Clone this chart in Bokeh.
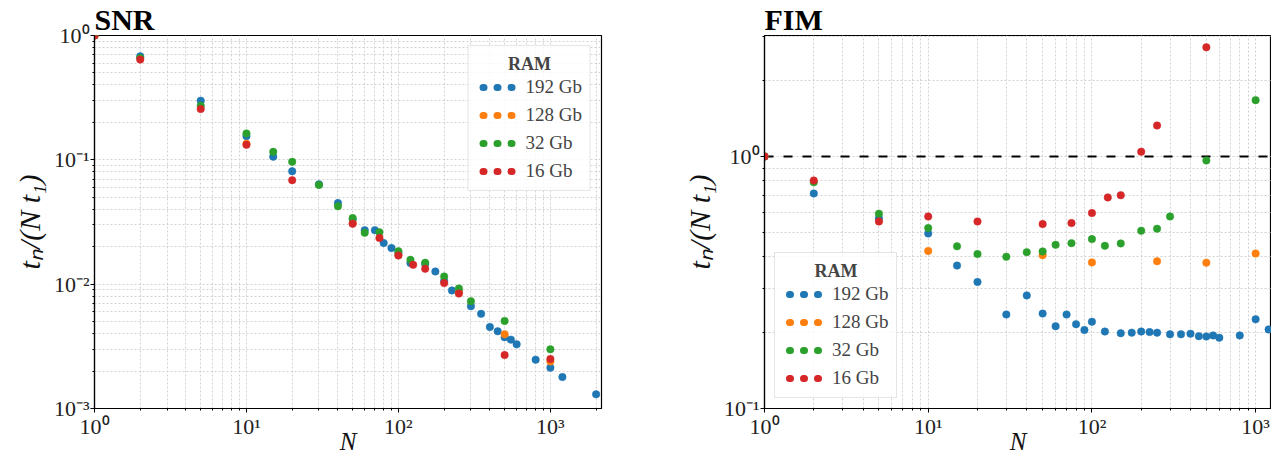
from bokeh.plotting import figure
from bokeh.layouts import row
from bokeh.models import (FixedTicker, CustomJSTickFormatter, Legend, LegendItem, Span)
from bokeh.embed import file_html
from bokeh.resources import INLINE

# ---------------- data ----------------
series_names = ["192 Gb", "128 Gb", "32 Gb", "16 Gb"]
series_colors = ["#1f77b4", "#ff7f0e", "#2ca02c", "#d62728"]

# SNR panel
snr_192_n = [1, 2, 5, 10, 15, 20, 30, 40, 50, 60, 70, 80, 90, 100, 120, 150, 175, 200,
             225, 250, 300, 350, 400, 450, 500, 550, 600, 800, 1000, 1200, 2000]
snr_192_v = [1.0, 0.68, 0.299, 0.155, 0.106, 0.081, 0.0635, 0.045, 0.033, 0.0272, 0.0272,
             0.0214, 0.0195, 0.0178, 0.0148, 0.0145, 0.01265, 0.0106, 0.0089, 0.0087,
             0.00665, 0.00577, 0.00453, 0.00418, 0.00374, 0.00358, 0.00328, 0.00247,
             0.00213, 0.00179, 0.0013]
snr_128_n = [1, 10, 50, 100, 250, 500, 1000]
snr_128_v = [1.0, 0.135, 0.031, 0.0172, 0.0086, 0.00395, 0.00239]
snr_32_n = [1, 2, 5, 10, 15, 20, 30, 40, 50, 60, 75, 100, 120, 150, 200, 250, 300, 500, 1000]
snr_32_v = [1.0, 0.66, 0.272, 0.163, 0.116, 0.0963, 0.0628, 0.0423, 0.034, 0.0259, 0.0262,
            0.0184, 0.0157, 0.0149, 0.01153, 0.00923, 0.0073, 0.00506, 0.00299]
snr_16_n = [1, 2, 5, 10, 20, 50, 75, 100, 125, 150, 200, 250, 500, 1000]
snr_16_v = [1.0, 0.64, 0.256, 0.132, 0.0686, 0.0306, 0.0235, 0.017, 0.0143, 0.0133,
            0.0102, 0.0084, 0.00269, 0.0025]

# FIM panel
fim_192_n = [1, 2, 5, 10, 15, 20, 30, 40, 50, 60, 70, 80, 90, 100, 120, 150, 175, 200,
             225, 250, 300, 350, 400, 450, 500, 550, 600, 800, 1000, 1200]
fim_192_v = [1.0, 0.713, 0.569, 0.495, 0.369, 0.318, 0.236, 0.281, 0.238, 0.212, 0.236,
             0.216, 0.205, 0.221, 0.202, 0.199, 0.2, 0.202, 0.201, 0.2, 0.197, 0.197,
             0.198, 0.1936, 0.193, 0.195, 0.191, 0.195, 0.226, 0.206]
fim_128_n = [1, 10, 50, 100, 250, 500, 1000]
fim_128_v = [1.0, 0.422, 0.406, 0.38, 0.384, 0.379, 0.412]
fim_32_n = [1, 2, 5, 10, 15, 20, 30, 40, 50, 60, 75, 100, 120, 150, 200, 250, 300, 500, 1000]
fim_32_v = [1.0, 0.79, 0.593, 0.52, 0.44, 0.41, 0.40, 0.417, 0.42, 0.446, 0.453, 0.47,
            0.442, 0.452, 0.507, 0.517, 0.578, 0.964, 1.673]
fim_16_n = [1, 2, 5, 10, 20, 50, 75, 100, 125, 150, 200, 250, 500]
fim_16_v = [1.0, 0.803, 0.552, 0.578, 0.552, 0.539, 0.544, 0.596, 0.688, 0.702, 1.044,
            1.327, 2.71]

snr_series = [(snr_192_n, snr_192_v), (snr_128_n, snr_128_v),
              (snr_32_n, snr_32_v), (snr_16_n, snr_16_v)]
fim_series = [(fim_192_n, fim_192_v), (fim_128_n, fim_128_v),
              (fim_32_n, fim_32_v), (fim_16_n, fim_16_v)]

x_label = "N"
y_label = "t\u2099/(N t\u2081)"
legend_title = "RAM"

# ---------------- styling ----------------
SERIF = "Liberation Serif"
GRID_COLOR = "#d2d2d2"
H = 458
TOP = 35
BOTTOM = 50

fmt = CustomJSTickFormatter(code="""
const sup = {"-": "\\u207b", "0": "\\u2070", "1": "\\u00b9", "2": "\\u00b2", "3": "\\u00b3",
             "4": "\\u2074", "5": "\\u2075", "6": "\\u2076", "7": "\\u2077", "8": "\\u2078", "9": "\\u2079"};
const e = Math.round(Math.log10(tick));
let s = "";
for (const c of String(e)) { s += sup[c]; }
return "10" + s;
""")


def log_ticker(kmin, kmax, lo, hi):
    majors = [10.0 ** k for k in range(kmin, kmax + 1) if lo <= 10.0 ** k <= hi]
    minors = []
    for k in range(kmin - 1, kmax + 1):
        for m in range(2, 10):
            v = m * 10.0 ** k
            if lo <= v <= hi:
                minors.append(v)
    return FixedTicker(ticks=majors, minor_ticks=minors)


def make_panel(title, series, xr, yr, xk, yk, width, bl, br, legend_loc):
    p = figure(width=width, height=H, x_axis_type="log", y_axis_type="log",
               x_range=xr, y_range=yr, output_backend="svg", toolbar_location=None,
               min_border_left=bl, min_border_right=br, min_border_top=TOP,
               min_border_bottom=BOTTOM, title=title)
    p.title.text_font = SERIF
    p.title.text_font_style = "bold"
    p.title.text_font_size = "30px"
    p.title.align = "left"
    p.title.standoff = 0
    p.title.text_color = "black"

    p.background_fill_color = "white"
    p.outline_line_color = "black"
    p.outline_line_width = 1.2

    xt = log_ticker(xk[0], xk[1], xr[0], xr[1])
    yt = log_ticker(yk[0], yk[1], yr[0], yr[1])
    p.xaxis.ticker = xt
    p.yaxis.ticker = yt
    p.xgrid.ticker = xt
    p.ygrid.ticker = yt
    for ax in (p.xaxis, p.yaxis):
        ax.formatter = fmt
        ax.axis_line_color = "black"
        ax.axis_line_width = 1.2
        ax.major_tick_line_color = "black"
        ax.minor_tick_line_color = "black"
        ax.major_tick_out = 4
        ax.major_tick_in = 0
        ax.minor_tick_out = 2
        ax.minor_tick_in = 0
        ax.major_label_text_font = SERIF
        ax.major_label_text_font_size = "22px"
        ax.major_label_text_color = "#222222"
        ax.major_label_standoff = 1
    p.yaxis.axis_label = y_label
    p.yaxis.axis_label_text_font = SERIF
    p.yaxis.axis_label_text_font_style = "italic"
    p.yaxis.axis_label_text_font_size = "30px"
    p.yaxis.axis_label_text_color = "#111111"
    p.yaxis.axis_label_standoff = 5
    p.xaxis.axis_label = x_label
    p.xaxis.axis_label_text_font = SERIF
    p.xaxis.axis_label_text_font_style = "italic"
    p.xaxis.axis_label_text_font_size = "25px"
    p.xaxis.axis_label_text_color = "#111111"
    p.xaxis.axis_label_standoff = -14

    for g in (p.xgrid, p.ygrid):
        g.grid_line_color = GRID_COLOR
        g.grid_line_dash = "2 2"
        g.grid_line_width = 1
        g.minor_grid_line_color = GRID_COLOR
        g.minor_grid_line_dash = "2 2"
        g.minor_grid_line_width = 1

    if title == "FIM":
        p.add_layout(Span(location=1, dimension="width", line_color="black",
                          line_dash="9 10", line_width=2, level="underlay"))

    for (n, v), c in zip(series, series_colors):
        p.scatter(n, v, size=7.5, fill_color=c, line_color=c, line_width=0.5)

    # legend swatches: three dots drawn with a dotted thick line (no data shown)
    items = []
    for name, c in zip(series_names, series_colors):
        dummy = p.line(x=[float("nan")], y=[float("nan")], line_color=c, line_width=7,
                       line_cap="round", line_dash="1 13", line_dash_offset=8)
        items.append(LegendItem(label=name, renderers=[dummy]))
    leg = Legend(items=items, location=legend_loc, margin=10, padding=8, spacing=6,
                 label_height=20, glyph_height=20, glyph_width=40, label_standoff=9,
                 title="\u00a0" * 7 + legend_title, title_standoff=1,
                 title_text_font=SERIF, title_text_font_style="bold",
                 title_text_font_size="18px",
                 label_text_font=SERIF, label_text_font_size="19px",
                 border_line_color="#cccccc", border_line_width=1,
                 background_fill_color="white", background_fill_alpha=0.85)
    p.add_layout(leg)
    return p


p1 = make_panel("SNR", snr_series, (1, 2170), (1e-3, 1), (0, 3), (-3, 0),
                658, 94, 57, "top_right")
p2 = make_panel("FIM", fim_series, (1, 1250), (0.1, 3.02), (0, 3), (-1, 0),
                613, 106, 0, "bottom_left")

layout = row(p1, p2)
open("out.html", "w").write(file_html(layout, INLINE))
